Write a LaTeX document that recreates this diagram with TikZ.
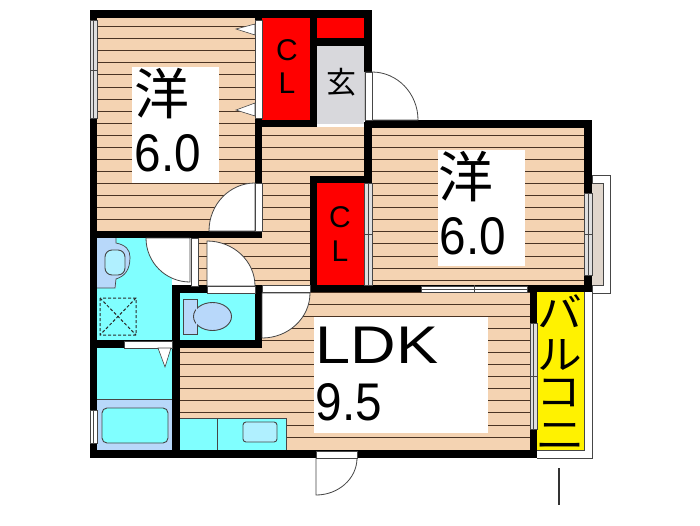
\documentclass[tikz,border=0pt]{standalone}
\usepackage{fontspec}
\setmainfont{Liberation Sans}
\newfontfamily\jpfont{Noto Sans CJK JP}
\definecolor{floorc}{RGB}{244,211,178}
\definecolor{linec}{RGB}{75,52,35}
\definecolor{wetc}{RGB}{128,255,255}
\definecolor{fixc}{RGB}{184,216,250}
\definecolor{basinc}{RGB}{176,240,255}
\definecolor{genc}{RGB}{216,216,220}
\definecolor{winc}{RGB}{190,190,190}
\definecolor{balc}{RGB}{224,214,204}
\definecolor{edgec}{RGB}{70,70,70}
\tikzset{
 labelbox/.style={fill=white,draw=none},
 opening/.style={fill=white,draw=edgec,line width=.5pt},
 swing/.style={fill=white,draw=edgec,line width=.8pt},
 fixture/.style={fill=fixc,draw=edgec,line width=.9pt},
 thin/.style={draw=edgec,line width=.7pt},
 bigtxt/.style={inner sep=0pt,font=\fontsize{53}{53}\selectfont},
 kanji/.style={inner sep=0pt,font=\fontsize{55}{55}\selectfont\jpfont},
 cltxt/.style={inner sep=0pt,font=\fontsize{30}{30}\selectfont},
 baltxt/.style={inner sep=0pt,font=\fontsize{40}{40}\selectfont\jpfont},
}
\begin{document}
\begin{tikzpicture}[x=1pt,y=-1pt]
\useasboundingbox (0,0) rectangle (700,525);
\fill[white] (0,0) rectangle (700,525);
% balcony outlines
\draw[thin,fill=white] (592,175) rectangle (610,293);
\fill[balc] (592,183) rectangle (603,285);
\draw[thin] (592,183) -- (603,183) -- (603,285) -- (592,285);
\draw[thin] (537,458) -- (592,458) -- (592,292);
\fill[yellow] (537,292) rectangle (584,450);
\draw[thin] (537,450) -- (584,450) -- (584,292);
% floors
\fill[floorc] (97,18) rectangle (255,231);
\fill[floorc] (262,127) rectangle (364,240);
\fill[floorc] (197,238) rectangle (310,286);
\fill[floorc] (372,128) rectangle (584,285);
\fill[floorc] (180,292) rectangle (530,450);
% stripes
\begin{scope}
\clip (97,18) rectangle (255,231) (262,127) rectangle (364,240) (197,238) rectangle (310,286) (372,128) rectangle (584,285) (180,292) rectangle (530,450);
\foreach \k in {0,...,34} \draw[linec,line width=1pt] (90,26.7+12.07*\k) -- (590,26.7+12.07*\k);
\end{scope}
% wet rooms
\fill[wetc] (97,238) rectangle (172,340);
\fill[wetc] (97,348) rectangle (172,450);
\fill[wetc] (180,293) rectangle (255,340);
\fill[wetc] (180,418) rectangle (286,450);
\draw[thin] (180,418) -- (286,418) -- (286,450);
\draw[thin] (217,418) -- (217,450);
\draw[fixture,fill=basinc,rounded corners=3pt] (243,422) rectangle (277,442);
% bath
\fill[fixc] (97,399) rectangle (172,450);
\draw[thin] (97,399) -- (172,399);
\draw[fixture,fill=wetc,rounded corners=5pt] (102,408) rectangle (168,443);
% basin
\path[fill=fixc] (97,238) -- (116,238) -- (116,243) .. controls (126,245) and (130,250) .. (130,257) .. controls (130,270) and (125,276) .. (116,279) -- (116,288) -- (97,288) -- cycle;
\draw[thin] (116,238) -- (116,243) .. controls (126,245) and (130,250) .. (130,257) .. controls (130,270) and (125,276) .. (116,279) -- (115,288) -- (97,288);
\draw[fixture,fill=basinc,rounded corners=7pt] (105,250) rectangle (125,275);
% washer pan
\draw[edgec!60!black,line width=1pt,densely dashed] (100,298) rectangle (136,335) (100,298) -- (136,335) (136,298) -- (100,335);
% toilet
\draw[fixture] (183,299) rectangle (197,334);
\draw[fixture] (212.5,316.5) ellipse (19 and 14);
\fill[fixc] (196,301) rectangle (197,332);
% closets
\fill[red] (262,18) rectangle (310,120);
\fill[red] (317,18) rectangle (364,38);
\fill[red] (317,183) rectangle (364,285);
\fill[genc] (317,46) rectangle (364,124);
% walls
\fill (90,10) rectangle (372,18);
\fill (90,10) rectangle (97,458);
\fill (90,450) rectangle (537,458);
\fill (255,10) rectangle (262,238);
\fill (90,231) rectangle (262,238);
\fill (310,10) rectangle (317,127);
\fill (262,120) rectangle (317,127);
\fill (317,38) rectangle (364,46);
\fill (364,10) rectangle (372,72);
\fill (364,122) rectangle (372,183);
\fill (365,120) rectangle (592,128);
\fill (584,120) rectangle (592,292);
\fill (310,176) rectangle (372,183);
\fill (310,176) rectangle (317,292);
\fill (310,285) rectangle (592,292);
\fill (530,285) rectangle (537,458);
\fill (172,285) rectangle (180,458);
\fill (172,285) rectangle (262,293);
\fill (255,285) rectangle (262,348);
\fill (172,340) rectangle (262,348);
\fill (90,340) rectangle (180,348);
% door swings
\draw[swing] (190,238) -- (146,238) arc[start angle=180,end angle=90,radius=44] -- cycle;
\draw[swing] (207,286) -- (207,241) arc[start angle=-90,end angle=0,x radius=48,y radius=45] -- cycle;
\draw[swing] (262,293) -- (310,293) arc[start angle=0,end angle=90,x radius=48,y radius=45] -- cycle;
\draw[swing] (255,231) -- (209,231) arc[start angle=180,end angle=270,x radius=46,y radius=48] -- cycle;
\draw[swing] (365,72) -- (372,72) arc[start angle=-90,end angle=0,x radius=46,y radius=48] -- (365,120) -- cycle;
\draw[swing] (316,458) -- (357,458) arc[start angle=0,end angle=90,x radius=41,y radius=37] -- cycle;
% openings
\draw[opening] (255,20) rectangle (262,118);
\draw[opening] (255,183) rectangle (262,231);
\draw[opening] (191,238) rectangle (198,286);
\draw[opening] (207,286) rectangle (255,293);
\draw[opening] (262,285) rectangle (310,292);
\draw[opening] (124,341) rectangle (172,348);
\draw[opening] (365,72) rectangle (372,120);
\draw[opening] (316,451) rectangle (357,458);
% windows
\draw[opening,fill=winc!50] (90,20) rectangle (97,118);
\draw[opening] (93.5,20) -- (93.5,118) (90,70) -- (97,70);
\draw[opening] (90,410) rectangle (97,443);
\draw[opening] (93.5,410) -- (93.5,443);
\draw[opening,fill=winc!50] (364,183) rectangle (372,285);
\draw[opening] (368,183) -- (368,285) (364,234) -- (372,234);
\draw[opening,fill=winc!50] (584,193) rectangle (592,275);
\draw[opening] (588,193) -- (588,275) (584,234) -- (592,234);
\draw[opening] (421,286) rectangle (527,292);
\draw[opening] (421,289) -- (527,289) (474,285) -- (474,292);
\draw[opening,fill=winc!50] (530,323) rectangle (537,429);
\draw[opening] (533.5,323) -- (533.5,429) (530,376) -- (537,376);
% triangles
\draw[opening,line width=.6pt] (255,24) -- (236,29) -- (255,35) -- cycle;
\draw[opening,line width=.6pt] (255,103) -- (236,110) -- (255,116) -- cycle;
\draw[opening,line width=.6pt] (158,348) -- (165,367) -- (171,348) -- cycle;
% labels
\fill[labelbox] (132,67) rectangle (219,183);
\fill[labelbox] (438,150) rectangle (525,266);
\fill[labelbox] (314,317) rectangle (488,433);
\node[kanji] (k1) at (162,94) {洋};
\node[bigtxt] (n1) at (168,153) {\scalebox{.9}[1]{6.0}};
\node[kanji] (k2) at (466,177) {洋};
\node[bigtxt] (n2) at (473,236) {\scalebox{.9}[1]{6.0}};
\node[bigtxt] (t3) at (377,345) {\scalebox{1.19}[1]{LDK}};
\node[bigtxt] (n3) at (349,402) {\scalebox{.9}[1]{9.5}};
\node[cltxt] (c1) at (287,50) {C};
\node[cltxt] (l1) at (287,83) {L};
\node[cltxt] (c2) at (340,217) {C};
\node[cltxt] (l2) at (340,251) {L};
\node[inner sep=0pt,font=\fontsize{30}{30}\selectfont\jpfont] (gen) at (341,82) {玄};
\node[baltxt] (b1) at (560,311) {\scalebox{1.12}[1]{バ}};
\node[baltxt] (b2) at (560,355) {\scalebox{1.12}[1]{ル}};
\node[baltxt] (b3) at (559,393) {\scalebox{1.12}[1]{コ}};
\node[baltxt] (b4) at (560,436) {\scalebox{1.25}[1]{ニ}};
\draw[black!80,line width=2.2pt] (559,468) -- (559,505);
\end{tikzpicture}
\end{document}
